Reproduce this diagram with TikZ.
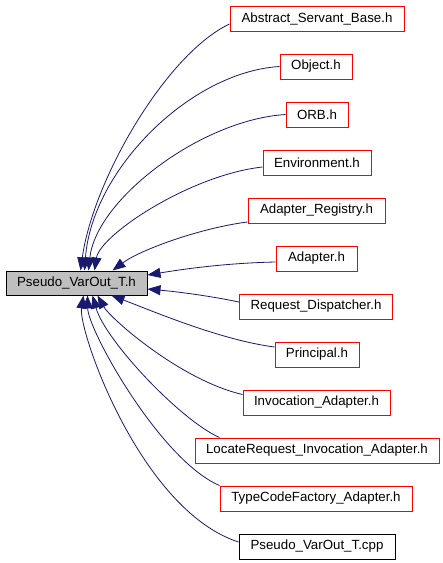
\documentclass[tikz,border=0pt]{standalone}
\usepackage{fontspec}
\setmainfont{Liberation Sans}
\usetikzlibrary{arrows.meta}
\definecolor{edgeblue}{HTML}{191970}
\definecolor{boxgray}{HTML}{BFBFBF}
\begin{document}
\begin{tikzpicture}[x=1pt,y=-1pt,
  box/.style={draw=red,line width=1pt,minimum height=25pt,inner sep=0pt,
    font=\fontsize{13.3}{15}\selectfont},
  blackbox/.style={box,draw=black},
  mainbox/.style={box,draw=black,fill=boxgray,minimum height=24pt},
  edge/.style={draw=edgeblue,line width=0.8pt,
    -{Triangle[length=13pt,width=10pt,fill=edgeblue]}}]
\useasboundingbox (0,0) rectangle (443,563);
\fill[white] (0,0) rectangle (443,563);

\node[mainbox,minimum width=141pt] (main) at (76.5,283) {Pseudo\_VarOut\_T.h};

\node[box,minimum width=174pt] (asb) at (317,18.5) {Abstract\_Servant\_Base.h};
\node[box,minimum width=72pt] (obj) at (316,66.5) {Object.h};
\node[box,minimum width=62pt] (orb) at (317,114.5) {ORB.h};
\node[box,minimum width=108pt] (env) at (317,162.5) {Environment.h};
\node[box,minimum width=137pt] (areg) at (316.5,210.5) {Adapter\_Registry.h};
\node[box,minimum width=81pt] (adp) at (316.5,258.5) {Adapter.h};
\node[box,minimum width=153pt] (reqd) at (316,306.5) {Request\_Dispatcher.h};
\node[box,minimum width=84pt] (prin) at (317,354.5) {Principal.h};
\node[box,minimum width=147pt] (inv) at (316.5,402.5) {Invocation\_Adapter.h};
\node[box,minimum width=244pt] (locreq) at (317,450.5) {LocateRequest\_Invocation\_Adapter.h};
\node[box,minimum width=192pt] (tcf) at (316,498.5) {TypeCodeFactory\_Adapter.h};
\node[blackbox,minimum width=156pt] (cpp) at (317,546.5) {Pseudo\_VarOut\_T.cpp};

% upper edges
\draw[edge] ([yshift=-5.5pt]asb.west) .. controls (166,54) and (93,180) .. ([xshift=75pt]main.north west);
\draw[edge] (obj.west) .. controls (190,72) and (92,170) .. ([xshift=79pt]main.north west);
\draw[edge] (orb.west) .. controls (200,120) and (96,200) .. ([xshift=83pt]main.north west);
\draw[edge] ([yshift=-4.5pt]env.west) .. controls (190,175) and (100,235) .. ([xshift=89pt]main.north west);
\draw[edge] ([yshift=-11.5pt]areg.west) .. controls (200,228) and (140,250) .. ([xshift=107pt]main.north west);
% side edges
\draw[edge] ([yshift=-3.5pt]adp.west) .. controls (230,263) and (190,268) .. ([yshift=8pt]main.east);
\draw[edge] ([yshift=-8.5pt]reqd.north west) .. controls (210,296) and (180,292) .. ([yshift=-6pt]main.east);
% lower edges
\draw[edge] ([yshift=7.5pt]prin.west) .. controls (220,340) and (150,310) .. ([xshift=106pt]main.south west);
\draw[edge] ([yshift=8pt]inv.west) .. controls (180,380) and (110,318) .. ([xshift=92pt]main.south west);
\draw[edge] ([xshift=25pt]locreq.north west) .. controls (180,420) and (105,340) .. ([xshift=87pt]main.south west);
\draw[edge] (tcf.north west) .. controls (160,460) and (88,330) .. ([xshift=82pt]main.south west);
\draw[edge] ([yshift=4.5pt]cpp.west) .. controls (140,510) and (78,330) .. ([xshift=78pt]main.south west);
\end{tikzpicture}
\end{document}
